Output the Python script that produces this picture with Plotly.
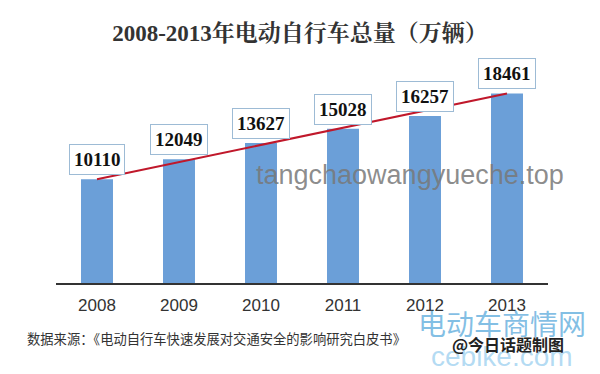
import plotly.graph_objects as go

years = [2008, 2009, 2010, 2011, 2012, 2013]
totals = [10110, 12049, 13627, 15028, 16257, 18461]
trend_x = [years[0], years[-1]]
trend_y = [totals[0], totals[-1]]
tick_labels = ["2008", "2009", "2010", "2011", "2012", "2013"]

title_text = "2008-2013年电动自行车总量（万辆）"
source_text = "数据来源：《电动自行车快速发展对交通安全的影响研究白皮书》"
credit_text = "@今日话题制图"

# page body has an 8px margin; the figure is sized/placed to compensate
OFF = 8
PL, PR, PT, PB = 56, 548, 60, 283  # plot area in window pixels


def px(x):
    return (x - PL) / (PR - PL)


def py(y):
    return (PB - y) / (PB - PT)


fig = go.Figure()
fig.add_trace(go.Bar(x=years, y=totals, width=0.39,
                     marker=dict(color="#6b9fd8", line=dict(width=0)), hoverinfo="x+y"))
fig.add_trace(go.Scatter(x=trend_x, y=trend_y, mode="lines",
                         line=dict(color="#c0182b", width=2), hoverinfo="skip"))

for x, v in zip(years, totals):
    fig.add_annotation(x=x, y=v, text=f"<b>{v}</b>", showarrow=False,
                       xanchor="center", yanchor="bottom", yshift=4,
                       font=dict(family="Liberation Serif, DejaVu Serif, serif", size=19, color="#111"),
                       bgcolor="white", bordercolor="#9dbbd5", borderwidth=1, borderpad=4)

# watermarks
fig.add_annotation(xref="paper", yref="paper", x=px(410), y=py(175), xanchor="center", yanchor="middle",
                   text="tangchaowangyueche.top", showarrow=False,
                   font=dict(family="Liberation Sans, Arial, sans-serif", size=27, color="rgba(120,120,120,0.85)"))
fig.add_annotation(xref="paper", yref="paper", x=px(502), y=py(323), xanchor="center", yanchor="middle",
                   text="电动车商情网", showarrow=False,
                   font=dict(family="Noto Sans CJK SC", size=28, color="rgba(90,170,220,0.75)"))
fig.add_annotation(xref="paper", yref="paper", x=px(502), y=py(356), xanchor="center", yanchor="middle",
                   text="cebike.com", showarrow=False,
                   font=dict(family="Liberation Sans, Arial, sans-serif", size=28, color="rgba(130,195,235,0.6)"))

# footer texts
fig.add_annotation(xref="paper", yref="paper", x=px(25), y=py(338), xanchor="left", yanchor="middle",
                   text=source_text, showarrow=False,
                   font=dict(family="Noto Sans CJK SC", size=13.3, color="#333"))
fig.add_annotation(xref="paper", yref="paper", x=px(566), y=py(344), xanchor="right", yanchor="middle",
                   text=f"<b>{credit_text}</b>", showarrow=False,
                   font=dict(family="Noto Sans CJK SC", size=16, color="#222"))

fig.update_layout(
    width=600 - OFF, height=374 - OFF,
    margin=dict(l=PL - OFF, r=600 - PR, t=PT - OFF, b=374 - PB, autoexpand=False),
    paper_bgcolor="white", plot_bgcolor="white",
    showlegend=False,
    title=dict(text=f"<b>{title_text}</b>", x=0.5 - OFF / 2 / (600 - OFF), xanchor="center",
               y=1 - (33 - OFF) / (374 - OFF), yanchor="middle",
               font=dict(family="Liberation Serif, Noto Serif CJK SC, Noto Sans CJK SC, serif", size=23, color="#333")),
    xaxis=dict(range=[2007.5, 2013.5], tickvals=years, ticktext=tick_labels,
               showline=True, linecolor="#333", linewidth=1.5, ticks="", zeroline=False,
               ticklabelstandoff=6,
               showgrid=False, tickfont=dict(family="Liberation Sans, Arial, sans-serif", size=17, color="#333")),
    yaxis=dict(range=[0, 21720], visible=False, showgrid=False),
)

fig.write_html("out.html")
